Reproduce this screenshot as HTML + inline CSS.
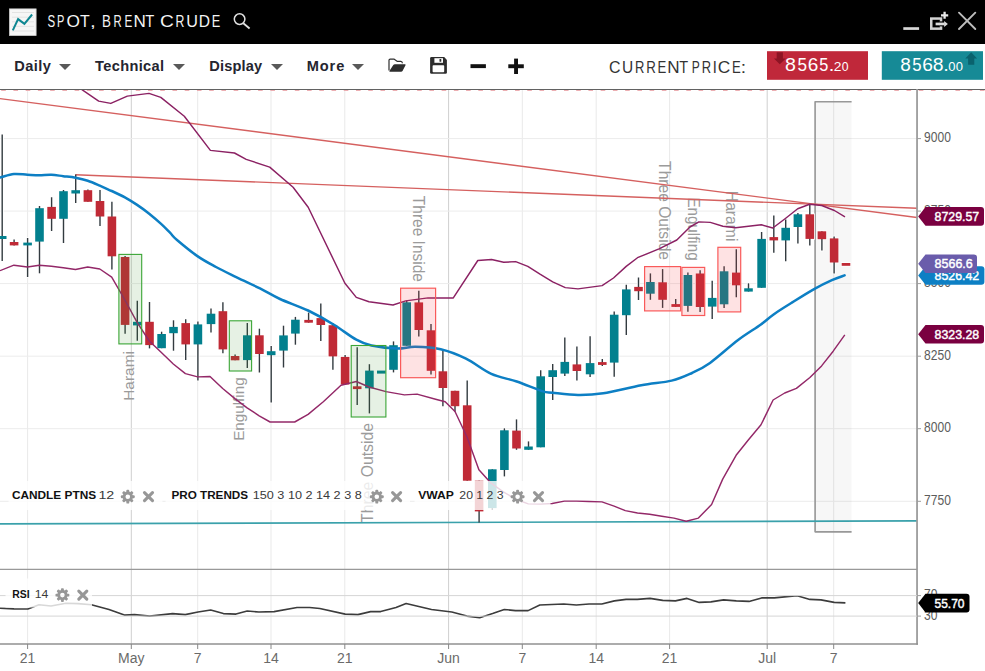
<!DOCTYPE html>
<html><head><meta charset="utf-8"><title>SPOT, BRENT CRUDE</title>
<style>
html,body{margin:0;padding:0;background:#fff;}
body{width:985px;height:671px;position:relative;overflow:hidden;font-family:"Liberation Sans",sans-serif;}
#titlebar{position:absolute;left:0;top:0;width:985px;height:43.5px;background:#000;}
#toolbar{position:absolute;left:0;top:43.5px;width:985px;height:44.5px;background:#fff;}
.menu{position:absolute;top:57px;font-weight:bold;font-size:14px;color:#25252f;line-height:18px;white-space:nowrap;}
.caret{position:absolute;top:63.5px;width:0;height:0;border-left:6px solid transparent;border-right:6px solid transparent;border-top:6.6px solid #595959;}
.pbox{position:absolute;top:51px;height:29px;color:#fff;}
</style></head><body>
<div id="titlebar"></div>
<div id="toolbar"></div>
<svg width="985" height="671" viewBox="0 0 985 671" style="position:absolute;left:0;top:0" font-family="'Liberation Sans', sans-serif">
<defs><clipPath id="cp"><rect x="0" y="90" width="917" height="479.4"/></clipPath></defs>
<rect x="0" y="88" width="985" height="583" fill="#fff"/>
<line x1="27.6" y1="89" x2="27.6" y2="644" stroke="#e9e9e9" stroke-width="1"/>
<line x1="131.3" y1="89" x2="131.3" y2="644" stroke="#cfcfcf" stroke-width="1"/>
<line x1="197.7" y1="89" x2="197.7" y2="644" stroke="#e9e9e9" stroke-width="1"/>
<line x1="271" y1="89" x2="271" y2="644" stroke="#e9e9e9" stroke-width="1"/>
<line x1="344.8" y1="89" x2="344.8" y2="644" stroke="#e9e9e9" stroke-width="1"/>
<line x1="448.6" y1="89" x2="448.6" y2="644" stroke="#cfcfcf" stroke-width="1"/>
<line x1="522.3" y1="89" x2="522.3" y2="644" stroke="#e9e9e9" stroke-width="1"/>
<line x1="596.2" y1="89" x2="596.2" y2="644" stroke="#e9e9e9" stroke-width="1"/>
<line x1="669.6" y1="89" x2="669.6" y2="644" stroke="#e9e9e9" stroke-width="1"/>
<line x1="767.2" y1="89" x2="767.2" y2="644" stroke="#cfcfcf" stroke-width="1"/>
<line x1="833.7" y1="89" x2="833.7" y2="644" stroke="#e9e9e9" stroke-width="1"/>
<line x1="0" y1="138.6" x2="917" y2="138.6" stroke="#ececec" stroke-width="1"/>
<line x1="0" y1="211.1" x2="917" y2="211.1" stroke="#ececec" stroke-width="1"/>
<line x1="0" y1="283.6" x2="917" y2="283.6" stroke="#ececec" stroke-width="1"/>
<line x1="0" y1="356.2" x2="917" y2="356.2" stroke="#ececec" stroke-width="1"/>
<line x1="0" y1="428.7" x2="917" y2="428.7" stroke="#ececec" stroke-width="1"/>
<line x1="0" y1="501.3" x2="917" y2="501.3" stroke="#ececec" stroke-width="1"/>
<g clip-path="url(#cp)">
<path d="M815.3 531.8V101.5H851.6V531.8Z" fill="rgba(0,0,0,0.03)"/>
<path d="M851.6 101.75H815.1V531.8H851.6" fill="none" stroke="#989898" stroke-width="1.65" stroke-linejoin="round"/>
<line x1="2.2" y1="133.6" x2="2.2" y2="261.8" stroke="#fff" stroke-width="3.2"/>
<rect x="-2.9" y="235.2" width="10.2" height="4.6" fill="#fff"/>
<line x1="14.1" y1="238.8" x2="14.1" y2="246.2" stroke="#fff" stroke-width="3.2"/>
<rect x="9.0" y="241.2" width="10.2" height="5.0" fill="#fff"/>
<line x1="27.6" y1="237.2" x2="27.6" y2="277.8" stroke="#fff" stroke-width="3.2"/>
<rect x="22.5" y="241.8" width="10.2" height="4.4" fill="#fff"/>
<line x1="39.5" y1="205.2" x2="39.5" y2="274.1" stroke="#fff" stroke-width="3.2"/>
<rect x="34.4" y="207.4" width="10.2" height="35.0" fill="#fff"/>
<line x1="51.6" y1="196.5" x2="51.6" y2="231.8" stroke="#fff" stroke-width="3.2"/>
<rect x="46.5" y="206.1" width="10.2" height="13.5" fill="#fff"/>
<line x1="63.5" y1="189.2" x2="63.5" y2="243.8" stroke="#fff" stroke-width="3.2"/>
<rect x="58.4" y="190.4" width="10.2" height="29.2" fill="#fff"/>
<line x1="75.7" y1="173.7" x2="75.7" y2="203.8" stroke="#fff" stroke-width="3.2"/>
<rect x="70.6" y="189.4" width="10.2" height="4.9" fill="#fff"/>
<line x1="87.9" y1="188.7" x2="87.9" y2="202.6" stroke="#fff" stroke-width="3.2"/>
<rect x="82.8" y="189.4" width="10.2" height="13.2" fill="#fff"/>
<line x1="100.0" y1="189.2" x2="100.0" y2="226.8" stroke="#fff" stroke-width="3.2"/>
<rect x="94.9" y="200.2" width="10.2" height="17.1" fill="#fff"/>
<line x1="111.9" y1="201.0" x2="111.9" y2="270.3" stroke="#fff" stroke-width="3.2"/>
<rect x="106.8" y="215.7" width="10.2" height="41.4" fill="#fff"/>
<line x1="125.1" y1="255.2" x2="125.1" y2="334.5" stroke="#fff" stroke-width="3.2"/>
<rect x="120.0" y="256.2" width="10.2" height="69.5" fill="#fff"/>
<line x1="137.3" y1="300.0" x2="137.3" y2="341.6" stroke="#fff" stroke-width="3.2"/>
<rect x="132.2" y="321.0" width="10.2" height="5.2" fill="#fff"/>
<line x1="149.5" y1="301.2" x2="149.5" y2="349.2" stroke="#fff" stroke-width="3.2"/>
<rect x="144.4" y="321.0" width="10.2" height="24.9" fill="#fff"/>
<line x1="161.6" y1="330.9" x2="161.6" y2="349.0" stroke="#fff" stroke-width="3.2"/>
<rect x="156.5" y="333.2" width="10.2" height="15.8" fill="#fff"/>
<line x1="173.5" y1="319.5" x2="173.5" y2="351.5" stroke="#fff" stroke-width="3.2"/>
<rect x="168.4" y="326.1" width="10.2" height="7.9" fill="#fff"/>
<line x1="185.7" y1="318.5" x2="185.7" y2="360.8" stroke="#fff" stroke-width="3.2"/>
<rect x="180.6" y="322.3" width="10.2" height="22.9" fill="#fff"/>
<line x1="197.9" y1="320.8" x2="197.9" y2="381.4" stroke="#fff" stroke-width="3.2"/>
<rect x="192.8" y="323.6" width="10.2" height="21.6" fill="#fff"/>
<line x1="211.0" y1="307.6" x2="211.0" y2="333.3" stroke="#fff" stroke-width="3.2"/>
<rect x="205.9" y="312.9" width="10.2" height="12.0" fill="#fff"/>
<line x1="222.9" y1="301.5" x2="222.9" y2="354.1" stroke="#fff" stroke-width="3.2"/>
<rect x="217.8" y="310.4" width="10.2" height="39.8" fill="#fff"/>
<line x1="235.1" y1="353.7" x2="235.1" y2="361.1" stroke="#fff" stroke-width="3.2"/>
<rect x="230.0" y="355.2" width="10.2" height="5.9" fill="#fff"/>
<line x1="247.3" y1="322.3" x2="247.3" y2="368.8" stroke="#fff" stroke-width="3.2"/>
<rect x="242.2" y="334.5" width="10.2" height="26.4" fill="#fff"/>
<line x1="259.4" y1="327.9" x2="259.4" y2="373.3" stroke="#fff" stroke-width="3.2"/>
<rect x="254.3" y="334.5" width="10.2" height="20.3" fill="#fff"/>
<line x1="271.2" y1="345.2" x2="271.2" y2="403.4" stroke="#fff" stroke-width="3.2"/>
<rect x="266.1" y="350.4" width="10.2" height="5.6" fill="#fff"/>
<line x1="283.5" y1="324.9" x2="283.5" y2="368.3" stroke="#fff" stroke-width="3.2"/>
<rect x="278.4" y="334.6" width="10.2" height="16.8" fill="#fff"/>
<line x1="295.4" y1="316.1" x2="295.4" y2="345.5" stroke="#fff" stroke-width="3.2"/>
<rect x="290.3" y="318.9" width="10.2" height="15.5" fill="#fff"/>
<line x1="308.6" y1="311.8" x2="308.6" y2="323.5" stroke="#fff" stroke-width="3.2"/>
<rect x="303.5" y="319.1" width="10.2" height="4.4" fill="#fff"/>
<line x1="320.8" y1="302.6" x2="320.8" y2="341.7" stroke="#fff" stroke-width="3.2"/>
<rect x="315.7" y="317.3" width="10.2" height="8.5" fill="#fff"/>
<line x1="332.9" y1="322.4" x2="332.9" y2="370.6" stroke="#fff" stroke-width="3.2"/>
<rect x="327.8" y="324.4" width="10.2" height="32.8" fill="#fff"/>
<line x1="345.1" y1="354.1" x2="345.1" y2="385.3" stroke="#fff" stroke-width="3.2"/>
<rect x="340.0" y="356.1" width="10.2" height="29.2" fill="#fff"/>
<line x1="357.2" y1="346.5" x2="357.2" y2="405.8" stroke="#fff" stroke-width="3.2"/>
<rect x="352.1" y="385.5" width="10.2" height="4.4" fill="#fff"/>
<line x1="369.4" y1="363.4" x2="369.4" y2="414.2" stroke="#fff" stroke-width="3.2"/>
<rect x="364.3" y="369.8" width="10.2" height="19.3" fill="#fff"/>
<rect x="376.2" y="369.8" width="10.2" height="4.6" fill="#fff"/>
<line x1="393.5" y1="340.6" x2="393.5" y2="373.2" stroke="#fff" stroke-width="3.2"/>
<rect x="388.4" y="344.4" width="10.2" height="26.2" fill="#fff"/>
<line x1="406.7" y1="299.6" x2="406.7" y2="346.6" stroke="#fff" stroke-width="3.2"/>
<rect x="401.6" y="301.5" width="10.2" height="45.1" fill="#fff"/>
<line x1="418.8" y1="290.0" x2="418.8" y2="337.2" stroke="#fff" stroke-width="3.2"/>
<rect x="413.7" y="301.6" width="10.2" height="29.2" fill="#fff"/>
<line x1="431.0" y1="323.2" x2="431.0" y2="375.2" stroke="#fff" stroke-width="3.2"/>
<rect x="425.9" y="329.5" width="10.2" height="42.1" fill="#fff"/>
<line x1="442.9" y1="349.2" x2="442.9" y2="407.1" stroke="#fff" stroke-width="3.2"/>
<rect x="437.8" y="370.5" width="10.2" height="18.3" fill="#fff"/>
<line x1="455.0" y1="390.0" x2="455.0" y2="412.6" stroke="#fff" stroke-width="3.2"/>
<rect x="449.9" y="390.0" width="10.2" height="17.0" fill="#fff"/>
<line x1="467.2" y1="379.8" x2="467.2" y2="481.5" stroke="#fff" stroke-width="3.2"/>
<rect x="462.1" y="404.5" width="10.2" height="77.0" fill="#fff"/>
<line x1="479.1" y1="479.9" x2="479.1" y2="523.3" stroke="#fff" stroke-width="3.2"/>
<rect x="474.0" y="479.9" width="10.2" height="32.3" fill="#fff"/>
<line x1="492.3" y1="468.5" x2="492.3" y2="510.8" stroke="#fff" stroke-width="3.2"/>
<rect x="487.2" y="468.5" width="10.2" height="40.4" fill="#fff"/>
<line x1="504.4" y1="427.5" x2="504.4" y2="477.2" stroke="#fff" stroke-width="3.2"/>
<rect x="499.3" y="429.5" width="10.2" height="41.3" fill="#fff"/>
<line x1="516.5" y1="418.6" x2="516.5" y2="450.6" stroke="#fff" stroke-width="3.2"/>
<rect x="511.4" y="429.8" width="10.2" height="19.5" fill="#fff"/>
<line x1="528.5" y1="440.6" x2="528.5" y2="450.6" stroke="#fff" stroke-width="3.2"/>
<rect x="523.4" y="445.7" width="10.2" height="4.9" fill="#fff"/>
<line x1="540.7" y1="369.4" x2="540.7" y2="448.1" stroke="#fff" stroke-width="3.2"/>
<rect x="535.6" y="375.5" width="10.2" height="72.6" fill="#fff"/>
<line x1="552.7" y1="363.3" x2="552.7" y2="400.8" stroke="#fff" stroke-width="3.2"/>
<rect x="547.6" y="369.4" width="10.2" height="8.4" fill="#fff"/>
<line x1="564.8" y1="336.7" x2="564.8" y2="376.8" stroke="#fff" stroke-width="3.2"/>
<rect x="559.7" y="361.1" width="10.2" height="13.3" fill="#fff"/>
<line x1="576.9" y1="345.6" x2="576.9" y2="381.4" stroke="#fff" stroke-width="3.2"/>
<rect x="571.8" y="363.6" width="10.2" height="8.2" fill="#fff"/>
<line x1="590.1" y1="335.5" x2="590.1" y2="377.8" stroke="#fff" stroke-width="3.2"/>
<rect x="585.0" y="362.3" width="10.2" height="12.8" fill="#fff"/>
<line x1="602.3" y1="358.2" x2="602.3" y2="366.7" stroke="#fff" stroke-width="3.2"/>
<rect x="597.2" y="361.3" width="10.2" height="4.4" fill="#fff"/>
<line x1="614.2" y1="310.6" x2="614.2" y2="377.6" stroke="#fff" stroke-width="3.2"/>
<rect x="609.1" y="313.9" width="10.2" height="49.5" fill="#fff"/>
<line x1="626.3" y1="284.0" x2="626.3" y2="335.8" stroke="#fff" stroke-width="3.2"/>
<rect x="621.2" y="288.6" width="10.2" height="27.4" fill="#fff"/>
<line x1="638.5" y1="276.7" x2="638.5" y2="300.8" stroke="#fff" stroke-width="3.2"/>
<rect x="633.4" y="286.1" width="10.2" height="5.9" fill="#fff"/>
<line x1="650.4" y1="272.6" x2="650.4" y2="300.6" stroke="#fff" stroke-width="3.2"/>
<rect x="645.3" y="281.2" width="10.2" height="13.3" fill="#fff"/>
<line x1="662.6" y1="268.3" x2="662.6" y2="308.7" stroke="#fff" stroke-width="3.2"/>
<rect x="657.5" y="281.5" width="10.2" height="19.1" fill="#fff"/>
<line x1="675.7" y1="298.2" x2="675.7" y2="307.7" stroke="#fff" stroke-width="3.2"/>
<rect x="670.6" y="303.3" width="10.2" height="4.4" fill="#fff"/>
<line x1="687.9" y1="271.6" x2="687.9" y2="312.5" stroke="#fff" stroke-width="3.2"/>
<rect x="682.8" y="274.2" width="10.2" height="32.5" fill="#fff"/>
<line x1="700.1" y1="269.4" x2="700.1" y2="312.8" stroke="#fff" stroke-width="3.2"/>
<rect x="695.0" y="272.7" width="10.2" height="35.1" fill="#fff"/>
<line x1="712.2" y1="279.9" x2="712.2" y2="319.8" stroke="#fff" stroke-width="3.2"/>
<rect x="707.1" y="297.1" width="10.2" height="10.3" fill="#fff"/>
<line x1="724.1" y1="265.5" x2="724.1" y2="308.9" stroke="#fff" stroke-width="3.2"/>
<rect x="719.0" y="270.5" width="10.2" height="34.6" fill="#fff"/>
<line x1="736.3" y1="248.5" x2="736.3" y2="298.0" stroke="#fff" stroke-width="3.2"/>
<rect x="731.2" y="271.8" width="10.2" height="14.3" fill="#fff"/>
<line x1="748.5" y1="282.5" x2="748.5" y2="292.4" stroke="#fff" stroke-width="3.2"/>
<rect x="743.4" y="287.5" width="10.2" height="4.9" fill="#fff"/>
<line x1="761.6" y1="231.3" x2="761.6" y2="288.6" stroke="#fff" stroke-width="3.2"/>
<rect x="756.5" y="238.1" width="10.2" height="50.5" fill="#fff"/>
<line x1="773.8" y1="214.8" x2="773.8" y2="253.6" stroke="#fff" stroke-width="3.2"/>
<rect x="768.7" y="236.3" width="10.2" height="4.9" fill="#fff"/>
<line x1="785.7" y1="218.6" x2="785.7" y2="262.0" stroke="#fff" stroke-width="3.2"/>
<rect x="780.6" y="227.0" width="10.2" height="14.2" fill="#fff"/>
<line x1="797.9" y1="212.3" x2="797.9" y2="244.3" stroke="#fff" stroke-width="3.2"/>
<rect x="792.8" y="213.5" width="10.2" height="14.3" fill="#fff"/>
<line x1="809.8" y1="203.4" x2="809.8" y2="246.3" stroke="#fff" stroke-width="3.2"/>
<rect x="804.7" y="213.5" width="10.2" height="26.2" fill="#fff"/>
<line x1="821.9" y1="230.5" x2="821.9" y2="251.4" stroke="#fff" stroke-width="3.2"/>
<rect x="816.8" y="230.5" width="10.2" height="9.5" fill="#fff"/>
<line x1="834.1" y1="235.8" x2="834.1" y2="274.2" stroke="#fff" stroke-width="3.2"/>
<rect x="829.0" y="237.6" width="10.2" height="25.7" fill="#fff"/>
<rect x="840.9" y="262.2" width="10.2" height="4.4" fill="#fff"/>
<text transform="translate(134.2,400.8) rotate(-90)" font-size="14.6" fill="#9b9b9b" textLength="49.7" lengthAdjust="spacingAndGlyphs">Harami</text>
<text transform="translate(244.4,440.8) rotate(-90)" font-size="14.8" fill="#9b9b9b" textLength="63.4" lengthAdjust="spacingAndGlyphs">Engulfing</text>
<text transform="translate(372.8,523.0) rotate(-90)" font-size="15.7" fill="#9b9b9b" textLength="100.1" lengthAdjust="spacingAndGlyphs">Three Outside</text>
<text transform="translate(413.1,195.8) rotate(90)" font-size="15.7" fill="#9b9b9b" textLength="86.2" lengthAdjust="spacingAndGlyphs">Three Inside</text>
<text transform="translate(658.5,161.1) rotate(90)" font-size="15.7" fill="#9b9b9b" textLength="98.9" lengthAdjust="spacingAndGlyphs">Three Outside</text>
<text transform="translate(688.1,197.4) rotate(90)" font-size="15.7" fill="#9b9b9b" textLength="63.2" lengthAdjust="spacingAndGlyphs">Engulfing</text>
<text transform="translate(725.8,190.8) rotate(90)" font-size="15.7" fill="#9b9b9b" textLength="50.6" lengthAdjust="spacingAndGlyphs">Harami</text>
<line x1="0" y1="523.9" x2="917" y2="520.9" stroke="#3aa1ab" stroke-width="1.65"/>
<line x1="0" y1="98.6" x2="917" y2="217.5" stroke="#d5605f" stroke-width="1.4"/>
<line x1="75.4" y1="174.8" x2="917" y2="208.3" stroke="#d5605f" stroke-width="1.4"/>
<line x1="2.2" y1="134.4" x2="2.2" y2="261.0" stroke="#333b40" stroke-width="1.4"/>
<rect x="-2.1" y="236.0" width="8.6" height="3.0" fill="#02808e"/>
<line x1="14.1" y1="239.6" x2="14.1" y2="245.4" stroke="#333b40" stroke-width="1.4"/>
<rect x="9.8" y="242.0" width="8.6" height="3.4" fill="#c02a36"/>
<line x1="27.6" y1="238.0" x2="27.6" y2="277.0" stroke="#333b40" stroke-width="1.4"/>
<rect x="23.3" y="242.6" width="8.6" height="2.8" fill="#02808e"/>
<line x1="39.5" y1="206.0" x2="39.5" y2="273.3" stroke="#333b40" stroke-width="1.4"/>
<rect x="35.2" y="208.2" width="8.6" height="33.4" fill="#02808e"/>
<line x1="51.6" y1="197.3" x2="51.6" y2="231.0" stroke="#333b40" stroke-width="1.4"/>
<rect x="47.3" y="206.9" width="8.6" height="11.9" fill="#c02a36"/>
<line x1="63.5" y1="190.0" x2="63.5" y2="243.0" stroke="#333b40" stroke-width="1.4"/>
<rect x="59.2" y="191.2" width="8.6" height="27.6" fill="#02808e"/>
<line x1="75.7" y1="174.5" x2="75.7" y2="203.0" stroke="#333b40" stroke-width="1.4"/>
<rect x="71.4" y="190.2" width="8.6" height="3.3" fill="#02808e"/>
<line x1="87.9" y1="189.5" x2="87.9" y2="201.8" stroke="#333b40" stroke-width="1.4"/>
<rect x="83.6" y="190.2" width="8.6" height="11.6" fill="#c02a36"/>
<line x1="100.0" y1="190.0" x2="100.0" y2="226.0" stroke="#333b40" stroke-width="1.4"/>
<rect x="95.7" y="201.0" width="8.6" height="15.5" fill="#c02a36"/>
<line x1="111.9" y1="201.8" x2="111.9" y2="269.5" stroke="#333b40" stroke-width="1.4"/>
<rect x="107.6" y="216.5" width="8.6" height="39.8" fill="#c02a36"/>
<line x1="125.1" y1="256.0" x2="125.1" y2="333.7" stroke="#333b40" stroke-width="1.4"/>
<rect x="120.8" y="257.0" width="8.6" height="67.9" fill="#c02a36"/>
<line x1="137.3" y1="300.8" x2="137.3" y2="340.8" stroke="#333b40" stroke-width="1.4"/>
<rect x="133.0" y="321.8" width="8.6" height="3.6" fill="#02808e"/>
<line x1="149.5" y1="302.0" x2="149.5" y2="348.4" stroke="#333b40" stroke-width="1.4"/>
<rect x="145.2" y="321.8" width="8.6" height="23.3" fill="#c02a36"/>
<line x1="161.6" y1="331.7" x2="161.6" y2="348.2" stroke="#333b40" stroke-width="1.4"/>
<rect x="157.3" y="334.0" width="8.6" height="14.2" fill="#02808e"/>
<line x1="173.5" y1="320.3" x2="173.5" y2="350.7" stroke="#333b40" stroke-width="1.4"/>
<rect x="169.2" y="326.9" width="8.6" height="6.3" fill="#02808e"/>
<line x1="185.7" y1="319.3" x2="185.7" y2="360.0" stroke="#333b40" stroke-width="1.4"/>
<rect x="181.4" y="323.1" width="8.6" height="21.3" fill="#c02a36"/>
<line x1="197.9" y1="321.6" x2="197.9" y2="380.6" stroke="#333b40" stroke-width="1.4"/>
<rect x="193.6" y="324.4" width="8.6" height="20.0" fill="#02808e"/>
<line x1="211.0" y1="308.4" x2="211.0" y2="332.5" stroke="#333b40" stroke-width="1.4"/>
<rect x="206.7" y="313.7" width="8.6" height="10.4" fill="#02808e"/>
<line x1="222.9" y1="302.3" x2="222.9" y2="353.3" stroke="#333b40" stroke-width="1.4"/>
<rect x="218.6" y="311.2" width="8.6" height="38.2" fill="#c02a36"/>
<line x1="235.1" y1="354.5" x2="235.1" y2="360.3" stroke="#333b40" stroke-width="1.4"/>
<rect x="230.8" y="356.0" width="8.6" height="4.3" fill="#c02a36"/>
<line x1="247.3" y1="323.1" x2="247.3" y2="368.0" stroke="#333b40" stroke-width="1.4"/>
<rect x="243.0" y="335.3" width="8.6" height="24.8" fill="#02808e"/>
<line x1="259.4" y1="328.7" x2="259.4" y2="372.5" stroke="#333b40" stroke-width="1.4"/>
<rect x="255.1" y="335.3" width="8.6" height="18.7" fill="#c02a36"/>
<line x1="271.2" y1="346.0" x2="271.2" y2="402.6" stroke="#333b40" stroke-width="1.4"/>
<rect x="266.9" y="351.2" width="8.6" height="4.0" fill="#02808e"/>
<line x1="283.5" y1="325.7" x2="283.5" y2="367.5" stroke="#333b40" stroke-width="1.4"/>
<rect x="279.2" y="335.4" width="8.6" height="15.2" fill="#02808e"/>
<line x1="295.4" y1="316.9" x2="295.4" y2="344.7" stroke="#333b40" stroke-width="1.4"/>
<rect x="291.1" y="319.7" width="8.6" height="13.9" fill="#02808e"/>
<line x1="308.6" y1="312.6" x2="308.6" y2="322.7" stroke="#333b40" stroke-width="1.4"/>
<rect x="304.3" y="319.9" width="8.6" height="2.8" fill="#c02a36"/>
<line x1="320.8" y1="303.4" x2="320.8" y2="340.9" stroke="#333b40" stroke-width="1.4"/>
<rect x="316.5" y="318.1" width="8.6" height="6.9" fill="#c02a36"/>
<line x1="332.9" y1="323.2" x2="332.9" y2="369.8" stroke="#333b40" stroke-width="1.4"/>
<rect x="328.6" y="325.2" width="8.6" height="31.2" fill="#c02a36"/>
<line x1="345.1" y1="354.9" x2="345.1" y2="384.5" stroke="#333b40" stroke-width="1.4"/>
<rect x="340.8" y="356.9" width="8.6" height="27.6" fill="#c02a36"/>
<line x1="357.2" y1="347.3" x2="357.2" y2="405.0" stroke="#333b40" stroke-width="1.4"/>
<rect x="352.9" y="386.3" width="8.6" height="2.8" fill="#c02a36"/>
<line x1="369.4" y1="364.2" x2="369.4" y2="413.4" stroke="#333b40" stroke-width="1.4"/>
<rect x="365.1" y="370.6" width="8.6" height="17.7" fill="#02808e"/>
<rect x="377.0" y="370.6" width="8.6" height="3.0" fill="#02808e"/>
<line x1="393.5" y1="341.4" x2="393.5" y2="372.4" stroke="#333b40" stroke-width="1.4"/>
<rect x="389.2" y="345.2" width="8.6" height="24.6" fill="#02808e"/>
<line x1="406.7" y1="300.4" x2="406.7" y2="345.8" stroke="#333b40" stroke-width="1.4"/>
<rect x="402.4" y="302.3" width="8.6" height="43.5" fill="#02808e"/>
<line x1="418.8" y1="290.8" x2="418.8" y2="336.4" stroke="#333b40" stroke-width="1.4"/>
<rect x="414.5" y="302.4" width="8.6" height="27.6" fill="#c02a36"/>
<line x1="431.0" y1="324.0" x2="431.0" y2="374.4" stroke="#333b40" stroke-width="1.4"/>
<rect x="426.7" y="330.3" width="8.6" height="40.5" fill="#c02a36"/>
<line x1="442.9" y1="350.0" x2="442.9" y2="406.3" stroke="#333b40" stroke-width="1.4"/>
<rect x="438.6" y="371.3" width="8.6" height="16.7" fill="#c02a36"/>
<line x1="455.0" y1="390.8" x2="455.0" y2="411.8" stroke="#333b40" stroke-width="1.4"/>
<rect x="450.7" y="390.8" width="8.6" height="15.4" fill="#c02a36"/>
<line x1="467.2" y1="380.6" x2="467.2" y2="480.7" stroke="#333b40" stroke-width="1.4"/>
<rect x="462.9" y="405.3" width="8.6" height="75.4" fill="#c02a36"/>
<line x1="479.1" y1="480.7" x2="479.1" y2="522.5" stroke="#333b40" stroke-width="1.4"/>
<rect x="474.8" y="480.7" width="8.6" height="30.7" fill="#c02a36"/>
<line x1="492.3" y1="469.3" x2="492.3" y2="510.0" stroke="#333b40" stroke-width="1.4"/>
<rect x="488.0" y="469.3" width="8.6" height="38.8" fill="#02808e"/>
<line x1="504.4" y1="428.3" x2="504.4" y2="476.4" stroke="#333b40" stroke-width="1.4"/>
<rect x="500.1" y="430.3" width="8.6" height="39.7" fill="#02808e"/>
<line x1="516.5" y1="419.4" x2="516.5" y2="449.8" stroke="#333b40" stroke-width="1.4"/>
<rect x="512.2" y="430.6" width="8.6" height="17.9" fill="#c02a36"/>
<line x1="528.5" y1="441.4" x2="528.5" y2="449.8" stroke="#333b40" stroke-width="1.4"/>
<rect x="524.2" y="446.5" width="8.6" height="3.3" fill="#02808e"/>
<line x1="540.7" y1="370.2" x2="540.7" y2="447.3" stroke="#333b40" stroke-width="1.4"/>
<rect x="536.4" y="376.3" width="8.6" height="71.0" fill="#02808e"/>
<line x1="552.7" y1="364.1" x2="552.7" y2="400.0" stroke="#333b40" stroke-width="1.4"/>
<rect x="548.4" y="370.2" width="8.6" height="6.8" fill="#02808e"/>
<line x1="564.8" y1="337.5" x2="564.8" y2="376.0" stroke="#333b40" stroke-width="1.4"/>
<rect x="560.5" y="361.9" width="8.6" height="11.7" fill="#02808e"/>
<line x1="576.9" y1="346.4" x2="576.9" y2="380.6" stroke="#333b40" stroke-width="1.4"/>
<rect x="572.6" y="364.4" width="8.6" height="6.6" fill="#c02a36"/>
<line x1="590.1" y1="336.3" x2="590.1" y2="377.0" stroke="#333b40" stroke-width="1.4"/>
<rect x="585.8" y="363.1" width="8.6" height="11.2" fill="#02808e"/>
<line x1="602.3" y1="359.0" x2="602.3" y2="365.9" stroke="#333b40" stroke-width="1.4"/>
<rect x="598.0" y="362.1" width="8.6" height="2.8" fill="#c02a36"/>
<line x1="614.2" y1="311.4" x2="614.2" y2="376.8" stroke="#333b40" stroke-width="1.4"/>
<rect x="609.9" y="314.7" width="8.6" height="47.9" fill="#02808e"/>
<line x1="626.3" y1="284.8" x2="626.3" y2="335.0" stroke="#333b40" stroke-width="1.4"/>
<rect x="622.0" y="289.4" width="8.6" height="25.8" fill="#02808e"/>
<line x1="638.5" y1="277.5" x2="638.5" y2="300.0" stroke="#333b40" stroke-width="1.4"/>
<rect x="634.2" y="286.9" width="8.6" height="4.3" fill="#c02a36"/>
<line x1="650.4" y1="273.4" x2="650.4" y2="299.8" stroke="#333b40" stroke-width="1.4"/>
<rect x="646.1" y="282.0" width="8.6" height="11.7" fill="#02808e"/>
<line x1="662.6" y1="269.1" x2="662.6" y2="307.9" stroke="#333b40" stroke-width="1.4"/>
<rect x="658.3" y="282.3" width="8.6" height="17.5" fill="#c02a36"/>
<line x1="675.7" y1="299.0" x2="675.7" y2="306.9" stroke="#333b40" stroke-width="1.4"/>
<rect x="671.4" y="304.1" width="8.6" height="2.8" fill="#c02a36"/>
<line x1="687.9" y1="272.4" x2="687.9" y2="311.7" stroke="#333b40" stroke-width="1.4"/>
<rect x="683.6" y="275.0" width="8.6" height="30.9" fill="#02808e"/>
<line x1="700.1" y1="270.2" x2="700.1" y2="312.0" stroke="#333b40" stroke-width="1.4"/>
<rect x="695.8" y="273.5" width="8.6" height="33.5" fill="#c02a36"/>
<line x1="712.2" y1="280.7" x2="712.2" y2="319.0" stroke="#333b40" stroke-width="1.4"/>
<rect x="707.9" y="297.9" width="8.6" height="8.7" fill="#02808e"/>
<line x1="724.1" y1="266.3" x2="724.1" y2="308.1" stroke="#333b40" stroke-width="1.4"/>
<rect x="719.8" y="271.3" width="8.6" height="33.0" fill="#02808e"/>
<line x1="736.3" y1="249.3" x2="736.3" y2="297.2" stroke="#333b40" stroke-width="1.4"/>
<rect x="732.0" y="272.6" width="8.6" height="12.7" fill="#c02a36"/>
<line x1="748.5" y1="283.3" x2="748.5" y2="291.6" stroke="#333b40" stroke-width="1.4"/>
<rect x="744.2" y="288.3" width="8.6" height="3.3" fill="#02808e"/>
<line x1="761.6" y1="232.1" x2="761.6" y2="287.8" stroke="#333b40" stroke-width="1.4"/>
<rect x="757.3" y="238.9" width="8.6" height="48.9" fill="#02808e"/>
<line x1="773.8" y1="215.6" x2="773.8" y2="252.8" stroke="#333b40" stroke-width="1.4"/>
<rect x="769.5" y="237.1" width="8.6" height="3.3" fill="#c02a36"/>
<line x1="785.7" y1="219.4" x2="785.7" y2="261.2" stroke="#333b40" stroke-width="1.4"/>
<rect x="781.4" y="227.8" width="8.6" height="12.6" fill="#02808e"/>
<line x1="797.9" y1="213.1" x2="797.9" y2="243.5" stroke="#333b40" stroke-width="1.4"/>
<rect x="793.6" y="214.3" width="8.6" height="12.7" fill="#02808e"/>
<line x1="809.8" y1="204.2" x2="809.8" y2="245.5" stroke="#333b40" stroke-width="1.4"/>
<rect x="805.5" y="214.3" width="8.6" height="24.6" fill="#c02a36"/>
<line x1="821.9" y1="231.3" x2="821.9" y2="250.6" stroke="#333b40" stroke-width="1.4"/>
<rect x="817.6" y="231.3" width="8.6" height="7.9" fill="#c02a36"/>
<line x1="834.1" y1="236.6" x2="834.1" y2="273.4" stroke="#333b40" stroke-width="1.4"/>
<rect x="829.8" y="238.4" width="8.6" height="24.1" fill="#c02a36"/>
<rect x="841.7" y="263.0" width="8.6" height="2.8" fill="#c02a36"/>
<polyline points="0.0,270.7 13.9,265.2 27.4,267.0 39.3,265.2 51.4,266.2 63.3,267.7 75.5,269.5 87.7,267.0 99.8,269.0 111.7,277.1 124.9,300.0 137.1,322.3 149.3,341.0 161.4,352.5 173.3,364.0 185.4,373.6 197.7,376.9 210.0,376.5 222.7,388.5 234.9,398.6 247.1,407.8 259.2,415.8 270.1,422.0 294.7,422.0 308.1,414.4 323.3,401.7 341.0,385.3 356.3,381.5 369.0,387.0 386.0,391.6 404.4,394.9 417.0,394.1 435.6,399.2 445.2,401.7 455.0,411.5 467.0,437.0 478.9,469.8 491.1,483.2 503.3,491.8 516.3,499.5 528.3,503.9 540.5,504.1 552.2,503.5 564.4,501.1 576.5,501.1 588.7,501.5 601.9,501.9 614.1,506.1 625.3,510.6 637.5,513.0 649.6,514.3 661.8,516.3 674.0,518.1 686.2,521.2 698.4,518.1 711.6,504.5 722.7,479.1 736.1,455.3 748.3,440.0 761.0,424.8 773.1,400.0 784.7,393.0 796.4,388.4 809.9,377.5 821.6,365.9 833.2,351.2 844.8,334.9" fill="none" stroke="#932868" stroke-width="1.45" stroke-linejoin="round"/>
<polyline points="81.0,89.0 98.7,101.1 110.8,103.4 127.3,96.1 149.0,93.4 160.8,97.4 184.3,116.2 210.4,150.4 234.5,153.0 246.2,159.4 269.7,167.1 293.1,187.2 308.2,207.3 344.9,283.2 356.3,297.4 369.0,301.7 393.0,305.0 405.7,300.9 428.0,297.9 453.3,297.9 477.8,260.5 491.6,259.5 503.7,262.3 515.7,261.6 527.8,266.4 540.0,274.2 552.7,281.8 565.3,287.6 578.0,288.9 602.1,285.6 613.5,278.0 626.2,266.4 637.5,257.7 659.0,248.9 676.8,240.0 690.0,227.0 698.9,221.9 710.3,222.4 722.9,226.2 735.6,227.8 761.3,224.8 772.8,228.0 785.4,218.5 797.7,208.8 809.6,204.2 821.7,205.5 834.4,210.5 845.0,216.9" fill="none" stroke="#8b2163" stroke-width="1.45" stroke-linejoin="round"/>
<path d="M0.0 177.5C0.3 177.4 -0.3 177.6 2.0 177.0C4.3 176.4 9.7 174.4 13.9 174.0C18.1 173.6 23.2 174.5 27.4 174.7C31.6 174.9 35.3 175.2 39.3 175.2C43.3 175.2 47.4 174.5 51.4 174.7C55.4 174.9 59.3 175.7 63.3 176.2C67.3 176.7 71.4 177.0 75.5 177.8C79.6 178.6 83.7 179.5 87.7 180.8C91.8 182.1 95.8 183.9 99.8 185.6C103.8 187.3 107.5 189.1 111.7 191.0C115.9 192.9 120.7 195.0 124.9 197.3C129.1 199.6 133.1 202.2 137.1 204.9C141.1 207.6 145.2 210.5 149.2 213.7C153.2 216.9 157.6 220.7 161.1 223.9C164.6 227.1 167.3 230.0 170.0 232.7C172.7 235.4 172.4 236.1 177.0 240.0C181.6 243.9 190.9 251.6 197.4 256.1C203.9 260.6 209.4 263.4 216.0 267.0C222.6 270.6 229.4 273.8 236.7 277.4C244.0 281.0 252.8 284.8 260.0 288.4C267.2 292.0 272.0 295.3 280.0 299.0C288.0 302.7 299.2 306.2 308.1 310.5C317.0 314.8 325.5 319.6 333.5 324.5C341.5 329.4 350.0 336.2 356.3 339.7C362.6 343.2 364.8 344.0 371.5 345.5C378.2 347.0 389.5 348.3 396.8 348.5C404.1 348.7 408.0 346.7 415.3 346.8C422.6 346.9 432.2 347.3 440.7 349.3C449.1 351.3 457.6 354.6 466.0 358.7C474.4 362.8 482.9 370.1 491.3 373.9C499.8 377.7 508.3 378.6 516.7 381.5C525.2 384.4 536.0 389.2 542.0 391.1C548.0 393.0 546.7 392.2 552.7 392.8C558.7 393.4 569.6 394.9 578.0 395.0C586.4 395.1 592.8 394.9 603.3 393.3C613.8 391.7 629.9 387.3 641.3 385.2C652.7 383.1 663.2 382.6 671.7 380.6C680.2 378.6 685.6 375.9 692.0 373.0C698.4 370.1 702.3 368.4 710.0 362.9C717.7 357.4 729.6 346.4 738.1 340.0C746.6 333.6 755.0 328.8 760.9 324.5C766.8 320.2 768.5 318.0 773.6 314.4C778.7 310.8 784.5 307.2 791.3 303.0C798.0 298.8 807.3 292.9 814.1 289.1C820.9 285.3 826.8 282.5 831.9 280.2C837.0 277.9 842.5 276.2 844.6 275.4" fill="none" stroke="#0d7fc4" stroke-width="2.5" stroke-linejoin="round" stroke-linecap="round"/>
<rect x="118.9" y="254.4" width="22.8" height="89.5" fill="rgba(60,150,50,0.13)" stroke="#3aa535" stroke-width="1.1"/>
<rect x="229.3" y="320.8" width="22.3" height="50.2" fill="rgba(60,150,50,0.13)" stroke="#3aa535" stroke-width="1.1"/>
<rect x="351.2" y="345.5" width="34.7" height="71.5" fill="rgba(60,150,50,0.13)" stroke="#3aa535" stroke-width="1.1"/>
<rect x="400.6" y="288.2" width="35.0" height="89.5" fill="rgba(250,60,70,0.15)" stroke="#f95a5a" stroke-width="1.2"/>
<rect x="644.6" y="266.6" width="36.0" height="44.3" fill="rgba(250,60,70,0.15)" stroke="#f95a5a" stroke-width="1.2"/>
<rect x="681.9" y="267.4" width="22.8" height="48.1" fill="rgba(250,60,70,0.15)" stroke="#f95a5a" stroke-width="1.2"/>
<rect x="717.9" y="247.3" width="22.8" height="64.6" fill="rgba(250,60,70,0.15)" stroke="#f95a5a" stroke-width="1.2"/>
</g>
<line x1="0" y1="89.5" x2="985" y2="89.5" stroke="#626262" stroke-width="1"/>
<line x1="1.2" y1="90.5" x2="985" y2="90.5" stroke="#ecaeb2" stroke-width="1" stroke-dasharray="4.6 7.634"/>
<polyline points="0.0,608.2 14.0,608.9 27.9,609.0 39.0,604.8 51.0,606.0 66.0,603.3 78.0,603.6 91.4,604.8 109.0,609.5 124.4,615.1 134.5,614.6 149.7,616.1 172.6,613.6 185.3,614.6 198.0,612.0 210.7,610.0 223.4,613.6 236.0,614.1 247.2,611.0 258.9,612.0 274.1,611.6 297.0,607.5 309.6,607.5 319.8,608.5 345.2,614.1 357.9,614.6 370.6,611.6 380.7,611.6 396.0,607.5 406.1,603.5 431.5,609.5 451.8,612.0 467.0,616.1 479.7,617.7 492.6,613.6 504.3,609.5 515.5,610.6 528.1,610.6 539.8,605.0 563.7,604.0 576.4,605.0 589.1,604.0 601.8,604.0 614.4,600.9 626.1,599.4 637.3,599.4 650.0,598.4 662.7,600.4 675.4,600.9 687.0,598.4 699.2,602.4 710.9,601.9 723.6,599.9 736.3,600.9 749.0,601.4 761.6,597.9 774.3,597.9 784.5,596.9 797.2,595.8 809.9,599.4 821.0,599.9 834.2,602.4 845.4,602.9" fill="none" stroke="#3c3c3c" stroke-width="1.6" stroke-linejoin="round"/>
<line x1="917.05" y1="89" x2="917.05" y2="644.7" stroke="#9c9c9c" stroke-width="1.8"/>
<line x1="0" y1="644" x2="918" y2="644" stroke="#909090" stroke-width="1.4"/>
<line x1="0" y1="569.4" x2="917" y2="569.4" stroke="#999" stroke-width="1.4"/>
<line x1="0" y1="595.6" x2="917" y2="595.6" stroke="#d6d6d6" stroke-width="1"/>
<line x1="0" y1="616.1" x2="917" y2="616.1" stroke="#d6d6d6" stroke-width="1"/>
<line x1="27.6" y1="644" x2="27.6" y2="649" stroke="#888" stroke-width="1"/>
<text x="27.6" y="663" text-anchor="middle" font-size="14" fill="#6a6a6a">21</text>
<line x1="131.3" y1="644" x2="131.3" y2="649" stroke="#888" stroke-width="1"/>
<text x="131.3" y="663" text-anchor="middle" font-size="14" fill="#6a6a6a">May</text>
<line x1="197.7" y1="644" x2="197.7" y2="649" stroke="#888" stroke-width="1"/>
<text x="197.7" y="663" text-anchor="middle" font-size="14" fill="#6a6a6a">7</text>
<line x1="271" y1="644" x2="271" y2="649" stroke="#888" stroke-width="1"/>
<text x="271" y="663" text-anchor="middle" font-size="14" fill="#6a6a6a">14</text>
<line x1="344.8" y1="644" x2="344.8" y2="649" stroke="#888" stroke-width="1"/>
<text x="344.8" y="663" text-anchor="middle" font-size="14" fill="#6a6a6a">21</text>
<line x1="448.6" y1="644" x2="448.6" y2="649" stroke="#888" stroke-width="1"/>
<text x="448.6" y="663" text-anchor="middle" font-size="14" fill="#6a6a6a">Jun</text>
<line x1="522.3" y1="644" x2="522.3" y2="649" stroke="#888" stroke-width="1"/>
<text x="522.3" y="663" text-anchor="middle" font-size="14" fill="#6a6a6a">7</text>
<line x1="596.2" y1="644" x2="596.2" y2="649" stroke="#888" stroke-width="1"/>
<text x="596.2" y="663" text-anchor="middle" font-size="14" fill="#6a6a6a">14</text>
<line x1="669.6" y1="644" x2="669.6" y2="649" stroke="#888" stroke-width="1"/>
<text x="669.6" y="663" text-anchor="middle" font-size="14" fill="#6a6a6a">21</text>
<line x1="767.2" y1="644" x2="767.2" y2="649" stroke="#888" stroke-width="1"/>
<text x="767.2" y="663" text-anchor="middle" font-size="14" fill="#6a6a6a">Jul</text>
<line x1="833.7" y1="644" x2="833.7" y2="649" stroke="#888" stroke-width="1"/>
<text x="833.7" y="663" text-anchor="middle" font-size="14" fill="#6a6a6a">7</text>
<line x1="917" y1="138.6" x2="921" y2="138.6" stroke="#9c9c9c" stroke-width="1"/>
<text x="924.1" y="142.1" font-size="14.3" fill="#5c5c5c" textLength="26.8" lengthAdjust="spacingAndGlyphs">9000</text>
<line x1="917" y1="211.1" x2="921" y2="211.1" stroke="#9c9c9c" stroke-width="1"/>
<text x="924.1" y="214.6" font-size="14.3" fill="#5c5c5c" textLength="26.8" lengthAdjust="spacingAndGlyphs">8750</text>
<line x1="917" y1="283.6" x2="921" y2="283.6" stroke="#9c9c9c" stroke-width="1"/>
<text x="924.1" y="287.1" font-size="14.3" fill="#5c5c5c" textLength="26.8" lengthAdjust="spacingAndGlyphs">8500</text>
<line x1="917" y1="356.2" x2="921" y2="356.2" stroke="#9c9c9c" stroke-width="1"/>
<text x="924.1" y="359.7" font-size="14.3" fill="#5c5c5c" textLength="26.8" lengthAdjust="spacingAndGlyphs">8250</text>
<line x1="917" y1="428.7" x2="921" y2="428.7" stroke="#9c9c9c" stroke-width="1"/>
<text x="924.1" y="432.2" font-size="14.3" fill="#5c5c5c" textLength="26.8" lengthAdjust="spacingAndGlyphs">8000</text>
<line x1="917" y1="501.3" x2="921" y2="501.3" stroke="#9c9c9c" stroke-width="1"/>
<text x="924.1" y="504.8" font-size="14.3" fill="#5c5c5c" textLength="26.8" lengthAdjust="spacingAndGlyphs">7750</text>
<line x1="917" y1="595.6" x2="921" y2="595.6" stroke="#9c9c9c" stroke-width="1"/>
<text x="924.1" y="599.1" font-size="14.3" fill="#5c5c5c" textLength="13.4" lengthAdjust="spacingAndGlyphs">70</text>
<line x1="917" y1="616.1" x2="921" y2="616.1" stroke="#9c9c9c" stroke-width="1"/>
<text x="924.1" y="619.6" font-size="14.3" fill="#5c5c5c" textLength="13.4" lengthAdjust="spacingAndGlyphs">30</text>
<rect x="8.5" y="481" width="154" height="29" fill="rgba(255,255,255,0.8)"/>
<rect x="165.5" y="481" width="244.5" height="29" fill="rgba(255,255,255,0.8)"/>
<rect x="414.5" y="481" width="136" height="29" fill="rgba(255,255,255,0.8)"/>
<rect x="5.5" y="578.5" width="86.5" height="29" fill="rgba(255,255,255,0.8)"/>
<text x="11.9" y="499.3" font-size="11.8" font-weight="bold" fill="#111" textLength="84.2" lengthAdjust="spacingAndGlyphs">CANDLE PTNS</text><text x="98.4" y="499.3" font-size="11.5" fill="#3a3a3a" textLength="15.9" lengthAdjust="spacingAndGlyphs">12</text>
<g transform="translate(127.8,496.7)"><g fill="#979797"><path d="M0-5.1a5.1 5.1 0 1 0 0 10.2a5.1 5.1 0 1 0 0-10.2zM0-2.3a2.3 2.3 0 1 1 0 4.6a2.3 2.3 0 1 1 0-4.6z" fill-rule="evenodd"/><rect x="-1.45" y="-6.9" width="2.9" height="4" rx="0.9" transform="rotate(0)"/><rect x="-1.45" y="-6.9" width="2.9" height="4" rx="0.9" transform="rotate(45)"/><rect x="-1.45" y="-6.9" width="2.9" height="4" rx="0.9" transform="rotate(90)"/><rect x="-1.45" y="-6.9" width="2.9" height="4" rx="0.9" transform="rotate(135)"/><rect x="-1.45" y="-6.9" width="2.9" height="4" rx="0.9" transform="rotate(180)"/><rect x="-1.45" y="-6.9" width="2.9" height="4" rx="0.9" transform="rotate(225)"/><rect x="-1.45" y="-6.9" width="2.9" height="4" rx="0.9" transform="rotate(270)"/><rect x="-1.45" y="-6.9" width="2.9" height="4" rx="0.9" transform="rotate(315)"/></g></g>
<path d="M144.5 492.6L152.5 500.6M152.5 492.6L144.5 500.6" stroke="#979797" stroke-width="3.1" stroke-linecap="round" fill="none"/>
<text x="171.4" y="499.3" font-size="11.8" font-weight="bold" fill="#111" textLength="76.7" lengthAdjust="spacingAndGlyphs">PRO TRENDS</text><text x="252.7" y="499.3" font-size="11.5" fill="#3a3a3a" textLength="109.1" lengthAdjust="spacingAndGlyphs">150 3 10 2 14 2 3 8</text>
<g transform="translate(376.8,496.7)"><g fill="#979797"><path d="M0-5.1a5.1 5.1 0 1 0 0 10.2a5.1 5.1 0 1 0 0-10.2zM0-2.3a2.3 2.3 0 1 1 0 4.6a2.3 2.3 0 1 1 0-4.6z" fill-rule="evenodd"/><rect x="-1.45" y="-6.9" width="2.9" height="4" rx="0.9" transform="rotate(0)"/><rect x="-1.45" y="-6.9" width="2.9" height="4" rx="0.9" transform="rotate(45)"/><rect x="-1.45" y="-6.9" width="2.9" height="4" rx="0.9" transform="rotate(90)"/><rect x="-1.45" y="-6.9" width="2.9" height="4" rx="0.9" transform="rotate(135)"/><rect x="-1.45" y="-6.9" width="2.9" height="4" rx="0.9" transform="rotate(180)"/><rect x="-1.45" y="-6.9" width="2.9" height="4" rx="0.9" transform="rotate(225)"/><rect x="-1.45" y="-6.9" width="2.9" height="4" rx="0.9" transform="rotate(270)"/><rect x="-1.45" y="-6.9" width="2.9" height="4" rx="0.9" transform="rotate(315)"/></g></g>
<path d="M392.6 492.6L400.6 500.6M400.6 492.6L392.6 500.6" stroke="#979797" stroke-width="3.1" stroke-linecap="round" fill="none"/>
<text x="418.2" y="499.3" font-size="11.8" font-weight="bold" fill="#111" textLength="35.7" lengthAdjust="spacingAndGlyphs">VWAP</text><text x="459.3" y="499.3" font-size="11.5" fill="#3a3a3a" textLength="44.4" lengthAdjust="spacingAndGlyphs">20 1 2 3</text>
<g transform="translate(517.6,496.7)"><g fill="#979797"><path d="M0-5.1a5.1 5.1 0 1 0 0 10.2a5.1 5.1 0 1 0 0-10.2zM0-2.3a2.3 2.3 0 1 1 0 4.6a2.3 2.3 0 1 1 0-4.6z" fill-rule="evenodd"/><rect x="-1.45" y="-6.9" width="2.9" height="4" rx="0.9" transform="rotate(0)"/><rect x="-1.45" y="-6.9" width="2.9" height="4" rx="0.9" transform="rotate(45)"/><rect x="-1.45" y="-6.9" width="2.9" height="4" rx="0.9" transform="rotate(90)"/><rect x="-1.45" y="-6.9" width="2.9" height="4" rx="0.9" transform="rotate(135)"/><rect x="-1.45" y="-6.9" width="2.9" height="4" rx="0.9" transform="rotate(180)"/><rect x="-1.45" y="-6.9" width="2.9" height="4" rx="0.9" transform="rotate(225)"/><rect x="-1.45" y="-6.9" width="2.9" height="4" rx="0.9" transform="rotate(270)"/><rect x="-1.45" y="-6.9" width="2.9" height="4" rx="0.9" transform="rotate(315)"/></g></g>
<path d="M534.5 492.6L542.5 500.6M542.5 492.6L534.5 500.6" stroke="#979797" stroke-width="3.1" stroke-linecap="round" fill="none"/>
<text x="12.2" y="598.2" font-size="11.8" font-weight="bold" fill="#111" textLength="17.4" lengthAdjust="spacingAndGlyphs">RSI</text><text x="34.7" y="598.2" font-size="11.5" fill="#3a3a3a" textLength="13.6" lengthAdjust="spacingAndGlyphs">14</text>
<g transform="translate(62.400000000000006,595.1)"><g fill="#979797"><path d="M0-5.1a5.1 5.1 0 1 0 0 10.2a5.1 5.1 0 1 0 0-10.2zM0-2.3a2.3 2.3 0 1 1 0 4.6a2.3 2.3 0 1 1 0-4.6z" fill-rule="evenodd"/><rect x="-1.45" y="-6.9" width="2.9" height="4" rx="0.9" transform="rotate(0)"/><rect x="-1.45" y="-6.9" width="2.9" height="4" rx="0.9" transform="rotate(45)"/><rect x="-1.45" y="-6.9" width="2.9" height="4" rx="0.9" transform="rotate(90)"/><rect x="-1.45" y="-6.9" width="2.9" height="4" rx="0.9" transform="rotate(135)"/><rect x="-1.45" y="-6.9" width="2.9" height="4" rx="0.9" transform="rotate(180)"/><rect x="-1.45" y="-6.9" width="2.9" height="4" rx="0.9" transform="rotate(225)"/><rect x="-1.45" y="-6.9" width="2.9" height="4" rx="0.9" transform="rotate(270)"/><rect x="-1.45" y="-6.9" width="2.9" height="4" rx="0.9" transform="rotate(315)"/></g></g>
<path d="M78.8 591.0999999999999L86.8 599.0999999999999M86.8 591.0999999999999L78.8 599.0999999999999" stroke="#979797" stroke-width="3.1" stroke-linecap="round" fill="none"/>
<path d="M918.2 216.4 L925.5 207.1 H981 Q984 207.1 984 210.1 V222.7 Q984 225.7 981 225.7 H925.5 Z" fill="#7a0040"/><text x="934.5" y="221.1" font-size="13.4" fill="#fff" stroke="#fff" stroke-width="0.45" textLength="44.7" lengthAdjust="spacingAndGlyphs">8729.57</text>
<path d="M918.2 334.3 L925.5 325.0 H981 Q984 325.0 984 328.0 V340.6 Q984 343.6 981 343.6 H925.5 Z" fill="#7a0040"/><text x="934.5" y="339.0" font-size="13.4" fill="#fff" stroke="#fff" stroke-width="0.45" textLength="44.7" lengthAdjust="spacingAndGlyphs">8323.28</text>
<path d="M918.2 275.5 L925.5 266.2 H981.4 Q984.4 266.2 984.4 269.2 V281.8 Q984.4 284.8 981.4 284.8 H925.5 Z" fill="#0d7fc4"/><text x="934.5" y="280.2" font-size="13.4" fill="#fff" stroke="#fff" stroke-width="0.45" textLength="44.7" lengthAdjust="spacingAndGlyphs">8526.42</text>
<path d="M918.2 263.7 L925.5 254.4 H974 Q977 254.4 977 257.4 V270.0 Q977 273.0 974 273.0 H925.5 Z" fill="#6a5cab"/><text x="934.5" y="268.4" font-size="13.4" fill="#fff" stroke="#fff" stroke-width="0.45" textLength="38.3" lengthAdjust="spacingAndGlyphs">8566.6</text>
<path d="M918.2 603.1 L925.5 593.8 H966.5 Q969.5 593.8 969.5 596.8 V609.4 Q969.5 612.4 966.5 612.4 H925.5 Z" fill="#000"/><text x="934.5" y="607.8" font-size="13.4" fill="#fff" stroke="#fff" stroke-width="0.45" textLength="30" lengthAdjust="spacingAndGlyphs">55.70</text>
</svg>
<svg width="985" height="89" viewBox="0 0 985 89" style="position:absolute;left:0;top:0" font-family="'Liberation Sans', sans-serif">
<!-- app icon -->
<rect x="9.5" y="8.9" width="26.6" height="26.6" fill="#f6f6f6" stroke="#cfcfcf" stroke-width="0.8"/>
<path d="M12 12.5H34M12 17.2H34M12 21.8H34M12 26.4H34M12 31H34" stroke="#dedede" stroke-width="0.8"/>
<path d="M12.8 30.4L18.1 19.1L24.4 23.8L32.1 14.5" fill="none" stroke="#0e8792" stroke-width="2"/>
<text transform="translate(47.44,26.8) scale(0.658,1)" font-size="17.4" fill="#f4f4f4">S</text><text transform="translate(56.94,26.8) scale(0.631,1)" font-size="17.4" fill="#f4f4f4">P</text><text transform="translate(66.59,26.8) scale(0.995,1)" font-size="17.4" fill="#f4f4f4">O</text><text transform="translate(79.95,26.8) scale(0.915,1)" font-size="17.4" fill="#f4f4f4">T</text><text transform="translate(89.97,26.8) scale(1.195,1)" font-size="17.4" fill="#f4f4f4">,</text><text transform="translate(102.06,26.8) scale(0.767,1)" font-size="17.4" fill="#f4f4f4">B</text><text transform="translate(113.62,26.8) scale(0.651,1)" font-size="17.4" fill="#f4f4f4">R</text><text transform="translate(124.39,26.8) scale(0.673,1)" font-size="17.4" fill="#f4f4f4">E</text><text transform="translate(133.57,26.8) scale(0.981,1)" font-size="17.4" fill="#f4f4f4">N</text><text transform="translate(145.37,26.8) scale(0.845,1)" font-size="17.4" fill="#f4f4f4">T</text><text transform="translate(160.10,26.8) scale(1.103,1)" font-size="17.4" fill="#f4f4f4">C</text><text transform="translate(175.54,26.8) scale(0.707,1)" font-size="17.4" fill="#f4f4f4">R</text><text transform="translate(186.19,26.8) scale(0.929,1)" font-size="17.4" fill="#f4f4f4">U</text><text transform="translate(198.78,26.8) scale(0.896,1)" font-size="17.4" fill="#f4f4f4">D</text><text transform="translate(211.70,26.8) scale(0.736,1)" font-size="17.4" fill="#f4f4f4">E</text>
<circle cx="239.6" cy="19.1" r="5.3" fill="none" stroke="#e0e0e0" stroke-width="1.5"/>
<path d="M243.3 23.2L249.6 28.5" stroke="#e0e0e0" stroke-width="1.8"/>
<!-- window controls -->
<rect x="903.3" y="27.2" width="15.8" height="2.7" fill="#d8d8d8"/>
<rect x="931.25" y="18.55" width="9.8" height="10.1" fill="none" stroke="#d2d2d2" stroke-width="2.5"/>
<rect x="939.6" y="21.4" width="3.4" height="5" fill="#000"/>
<rect x="935.6" y="22.6" width="8.8" height="2.7" fill="#dcdcdc"/>
<path d="M944.1 20.9L947.9 23.95L944.1 27Z" fill="#dcdcdc"/>
<path d="M941 15.3H948.2M944.6 11.8V18.8" stroke="#e8e8e8" stroke-width="2.3"/>
<path d="M959 12.7L975.3 29M975.3 12.7L959 29" stroke="#bdbdbd" stroke-width="1.9" stroke-linecap="round"/>
<!-- toolbar icons -->
<path d="M389 70.6V60.3Q389 59.1 390.2 59.1H393.9L397.1 61.3H400.9Q402.3 61.3 402.4 63.3" fill="none" stroke="#2d2d2d" stroke-width="1.2" stroke-linejoin="round"/>
<path d="M395 64.2H404.9Q406 64.2 405.5 65.2L402.5 71Q402.1 71.8 401.1 71.8H390.6Q389 71.8 389.4 70.9L393.3 65.1Q393.8 64.2 395 64.2Z" fill="#2d2d2d"/>
<path d="M430.1 58.3Q430.1 57 431.4 57H444.2L446.9 59.9V72.4Q446.9 73.7 445.6 73.7H431.4Q430.1 73.7 430.1 72.4Z" fill="#2d2d2d"/>
<rect x="434.4" y="58.2" width="8.6" height="4.6" fill="#fff"/>
<rect x="439.5" y="59" width="1.8" height="2.8" rx="0.6" fill="#2d2d2d"/>
<rect x="432.6" y="65.3" width="11.6" height="6.9" rx="0.8" fill="#fff"/>
<rect x="470.5" y="64.2" width="15.4" height="3.9" fill="#111"/>
<rect x="508.3" y="64.3" width="15.5" height="3.9" fill="#111"/>
<rect x="514.1" y="58.6" width="3.9" height="15.4" fill="#111"/>
<g font-weight="bold" font-size="14.6" fill="#25252f">
<text x="14.2" y="71" textLength="36.6" lengthAdjust="spacing">Daily</text>
<text x="95" y="71" textLength="69.1" lengthAdjust="spacing">Technical</text>
<text x="209.3" y="71" textLength="52.8" lengthAdjust="spacing">Display</text>
<text x="306.8" y="71" textLength="37.5" lengthAdjust="spacing">More</text>
</g>
<text transform="translate(609.05,72.9) scale(1.008,1)" font-size="15.8" fill="#333">C</text><text transform="translate(622.03,72.9) scale(0.981,1)" font-size="15.8" fill="#333">U</text><text transform="translate(634.99,72.9) scale(0.821,1)" font-size="15.8" fill="#333">R</text><text transform="translate(646.36,72.9) scale(0.841,1)" font-size="15.8" fill="#333">R</text><text transform="translate(657.47,72.9) scale(0.833,1)" font-size="15.8" fill="#333">E</text><text transform="translate(667.37,72.9) scale(1.080,1)" font-size="15.8" fill="#333">N</text><text transform="translate(679.17,72.9) scale(0.920,1)" font-size="15.8" fill="#333">T</text><text transform="translate(691.66,72.9) scale(0.764,1)" font-size="15.8" fill="#333">P</text><text transform="translate(701.69,72.9) scale(0.821,1)" font-size="15.8" fill="#333">R</text><text transform="translate(712.76,72.9) scale(0.926,1)" font-size="15.8" fill="#333">I</text><text transform="translate(717.69,72.9) scale(1.097,1)" font-size="15.8" fill="#333">C</text><text transform="translate(732.07,72.9) scale(0.833,1)" font-size="15.8" fill="#333">E</text><text transform="translate(740.80,72.9) scale(1.215,1)" font-size="15.8" fill="#333">:</text>
<rect x="767" y="51.2" width="101" height="28.6" fill="#c0283a"/>
<rect x="881.8" y="51.2" width="101.2" height="28.6" fill="#168a96"/>
<path d="M776.7 52.2h6.2v6.3h2.8l-5.9 5.8l-5.9-5.8h2.8z" fill="#8d1424"/>
<path d="M968.1 64.7h6.2v-6.3h2.8l-5.9-6.2l-5.9 6.2h2.8z" fill="#0a626e"/>
<text transform="translate(785.09,70.8) scale(1.054,1)" font-size="18.6" fill="#fff">8</text><text transform="translate(797.46,70.8) scale(0.921,1)" font-size="18.6" fill="#fff">5</text><text transform="translate(807.71,70.8) scale(1.021,1)" font-size="18.6" fill="#fff">6</text><text transform="translate(819.19,70.8) scale(0.877,1)" font-size="18.6" fill="#fff">5</text><text transform="translate(828.83,70.8) scale(1.081,1)" font-size="18.6" fill="#fff">.</text>
<text transform="translate(833.65,70.8) scale(1.156,1)" font-size="12" fill="#fff">2</text><text transform="translate(841.72,70.8) scale(1.017,1)" font-size="12" fill="#fff">0</text>
<text transform="translate(900.21,70.8) scale(1.021,1)" font-size="18.6" fill="#fff">8</text><text transform="translate(912.28,70.8) scale(0.899,1)" font-size="18.6" fill="#fff">5</text><text transform="translate(922.20,70.8) scale(1.032,1)" font-size="18.6" fill="#fff">6</text><text transform="translate(932.79,70.8) scale(1.043,1)" font-size="18.6" fill="#fff">8</text><text transform="translate(943.23,70.8) scale(1.081,1)" font-size="18.6" fill="#fff">.</text>
<text transform="translate(948.19,70.8) scale(1.083,1)" font-size="12" fill="#fff">0</text><text transform="translate(955.79,70.8) scale(1.083,1)" font-size="12" fill="#fff">0</text>
</svg>
<div class="caret" style="left:58.8px"></div><div class="caret" style="left:172.8px"></div><div class="caret" style="left:270.6px"></div><div class="caret" style="left:351.6px"></div>
</body></html>
